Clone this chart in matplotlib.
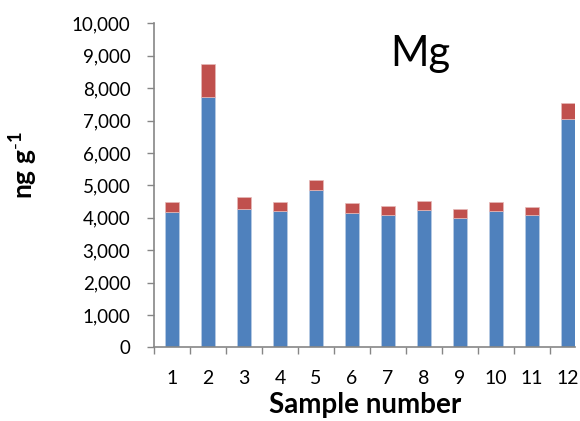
import numpy as np
import matplotlib.pyplot as plt
from matplotlib.ticker import FuncFormatter, FixedLocator

# Mg concentration per sample (ng g-1): base value and stacked top part
samples = [1, 2, 3, 4, 5, 6, 7, 8, 9, 10, 11, 12]
base = [4190, 7735, 4260, 4205, 4845, 4135, 4095, 4230, 4000, 4195, 4075, 7045]
top = [300, 1010, 370, 290, 320, 310, 280, 300, 280, 290, 265, 505]

plt.rcParams['font.family'] = ['Lato', 'DejaVu Sans']
plt.rcParams['mathtext.fontset'] = 'custom'
plt.rcParams['mathtext.rm'] = 'Lato'
plt.rcParams['mathtext.bf'] = 'Lato:bold'

fig = plt.figure(figsize=(5.8, 4.21), dpi=100)
ax = fig.add_axes([154 / 580, 1 - 347.3 / 421, 421 / 580, 324 / 421])

x = np.array(samples)
ax.bar(x, base, width=0.39, color='#4F81BD', edgecolor='#B9CDE5', linewidth=0.5)
ax.bar(x, top, width=0.39, bottom=base, color='#C0504D', edgecolor='#E6B9B8', linewidth=0.5)

ax.set_xlim(0.5, 12.2)
ax.set_ylim(0, 10000)
ax.set_yticks(np.arange(0, 10001, 1000))
ax.yaxis.set_major_formatter(FuncFormatter(lambda v, p: f"{int(v):,}"))

ax.set_xticks(x)
ax.set_xticklabels([str(s) for s in samples])
ax.xaxis.set_minor_locator(FixedLocator(np.arange(0.5, 12, 1)))
ax.tick_params(axis='x', which='major', length=0, pad=16, labelsize=14)
ax.tick_params(axis='x', which='minor', length=5, width=1, color='#868686', direction='out')
ax.tick_params(axis='y', length=5, width=1, color='#868686', pad=12, labelsize=13.5)

for s in ['top', 'right']:
    ax.spines[s].set_visible(False)
for s in ['left', 'bottom']:
    ax.spines[s].set_color('#868686')
    ax.spines[s].set_linewidth(1.2)

ax.set_xlabel("Sample number", fontsize=20, fontweight='bold')
ax.xaxis.set_label_coords((365 - 154) / 421, -45 / 324)
ax.set_ylabel(r"ng g$^{\mathbf{\text{-}1}}$", fontsize=19, fontweight='bold')
ax.yaxis.set_label_coords(-114 / 421, (347.3 - 165) / 324)

fig.text(420 / 580, 1 - 54 / 421, "Mg", fontsize=30, ha='center', va='center')

fig.savefig("out.png", dpi=100)
